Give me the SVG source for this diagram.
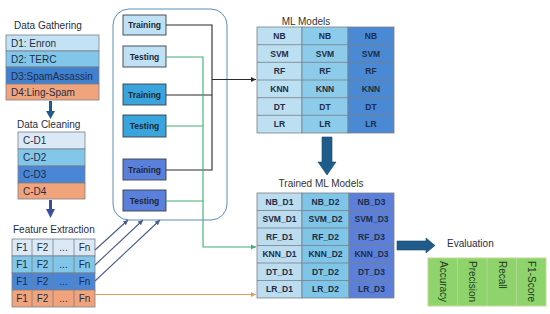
<svg xmlns="http://www.w3.org/2000/svg" width="550" height="314" viewBox="0 0 550 314">
<defs>
<style>
text{font-family:"Liberation Sans",Arial,sans-serif;fill:#1f2d45}
.t{font-size:10px}
.ttl{font-size:10px;fill:#333}
.b{font-size:8.5px;font-weight:bold;text-anchor:middle;dominant-baseline:central;fill:#1c2838}
.c{font-size:10px;text-anchor:middle;dominant-baseline:central}
.cell{stroke:#7a7f88;stroke-width:0.8}
.box{stroke:#3a3f4a;stroke-width:0.9}
.r1{fill:#c3e2f3}.r2{fill:#82c6e9}.r3{fill:#3f80cf}.r4{fill:#f1a47c}
.cr1{fill:#dbe9f6}
.ln{fill:none;stroke-width:1.1}
.blk{stroke:#2a2a2a}.grn{stroke:#3fae70}.org{stroke:#d9a060}.blu{stroke:#4a5a8c}
.ev{font-size:10px;dominant-baseline:central;text-anchor:start;fill:#1c3a1c}
</style>
<marker id="ab" markerWidth="6" markerHeight="6" refX="5" refY="3" orient="auto" markerUnits="userSpaceOnUse"><path d="M0,0.5 L5,3 L0,5.5 Z" fill="#2a2a2a"/></marker>
<marker id="ag" markerWidth="6" markerHeight="6" refX="5" refY="3" orient="auto" markerUnits="userSpaceOnUse"><path d="M0,0.5 L5,3 L0,5.5 Z" fill="#3fae70"/></marker>
<marker id="ao" markerWidth="6" markerHeight="6" refX="5" refY="3" orient="auto" markerUnits="userSpaceOnUse"><path d="M0,0.5 L5,3 L0,5.5 Z" fill="#d9a060"/></marker>
<marker id="au" markerWidth="6" markerHeight="6" refX="5" refY="3" orient="auto" markerUnits="userSpaceOnUse"><path d="M0,0.5 L5,3 L0,5.5 Z" fill="#4a5a8c"/></marker>
</defs>
<rect width="550" height="314" fill="#ffffff"/>

<g id="data-gathering">
<text class="t" x="14" y="29">Data Gathering</text>
<rect class="cell r1" x="6" y="35" width="93" height="16"/>
<rect class="cell r2" x="6" y="51" width="93" height="16"/>
<rect class="cell r3" x="6" y="67" width="93" height="17"/>
<rect class="cell r4" x="6" y="84" width="93" height="16"/>
<text class="t" x="11" y="47">D1: Enron</text>
<text class="t" x="11" y="63">D2: TERC</text>
<text class="t" x="11" y="79.5">D3:SpamAssassin</text>
<text class="t" x="11" y="96">D4:Ling-Spam</text>
</g>

<g id="data-cleaning">
<text class="t" x="17" y="128">Data Cleaning</text>
<rect class="cell cr1" x="18" y="132" width="67" height="17"/>
<rect class="cell r2" x="18" y="149" width="67" height="17"/>
<rect class="cell" x="18" y="166" width="67" height="17" fill="#4a86d6"/>
<rect class="cell r4" x="18" y="183" width="67" height="16"/>
<text class="t" x="23" y="144">C-D1</text>
<text class="t" x="23" y="161">C-D2</text>
<text class="t" x="23" y="178">C-D3</text>
<text class="t" x="23" y="195">C-D4</text>
</g>

<g id="feature-extraction">
<text class="t" x="13" y="233">Feature Extraction</text>
<g class="cell">
<rect class="cr1" x="12" y="239" width="83" height="17"/>
<rect class="r2" x="12" y="256" width="83" height="17"/>
<rect x="12" y="273" width="83" height="17" fill="#4a86d6"/>
<rect class="r4" x="12" y="290" width="83" height="17"/>
<path d="M32,239V307M53,239V307M74,239V307" fill="none"/>
</g>
<g class="c">
<text x="22" y="247.5">F1</text><text x="42.5" y="247.5">F2</text><text x="63.5" y="247.5">...</text><text x="84.5" y="247.5">Fn</text>
<text x="22" y="264.5">F1</text><text x="42.5" y="264.5">F2</text><text x="63.5" y="264.5">...</text><text x="84.5" y="264.5">Fn</text>
<text x="22" y="281.5">F1</text><text x="42.5" y="281.5">F2</text><text x="63.5" y="281.5">...</text><text x="84.5" y="281.5">Fn</text>
<text x="22" y="298.5">F1</text><text x="42.5" y="298.5">F2</text><text x="63.5" y="298.5">...</text><text x="84.5" y="298.5">Fn</text>
</g>
</g>

<g id="split-container">
<rect x="113" y="9" width="114" height="211" rx="16" fill="none" stroke="#5a8fb5" stroke-width="1"/>
</g>
<g id="train1"><rect class="box" x="123" y="15" width="43" height="20" fill="#bfe1f3"/><text class="b" x="144.5" y="25">Training</text></g>
<g id="test1"><rect class="box" x="123" y="46" width="43" height="21" fill="#bfe1f3"/><text class="b" x="144.5" y="56.5">Testing</text></g>
<g id="train2"><rect class="box" x="123" y="84" width="43" height="21" fill="#3aa5dc"/><text class="b" x="144.5" y="94.5">Training</text></g>
<g id="test2"><rect class="box" x="123" y="115" width="43" height="22" fill="#3aa5dc"/><text class="b" x="144.5" y="126">Testing</text></g>
<g id="train3"><rect class="box" x="123" y="159" width="43" height="21" fill="#5b80db"/><text class="b" x="144.5" y="169.5">Training</text></g>
<g id="test3"><rect class="box" x="123" y="190" width="43" height="21" fill="#5b80db"/><text class="b" x="144.5" y="200.5">Testing</text></g>

<g id="ml-models">
<text class="ttl" x="306" y="25" text-anchor="middle">ML Models</text>
<rect class="cell" x="257" y="27" width="45" height="106" fill="#bddff2"/>
<rect class="cell" x="302" y="27" width="46" height="106" fill="#8ccbea"/>
<rect class="cell" x="348" y="27" width="46" height="106" fill="#4a8ad4"/>
<path class="cell" d="M257,44.7H394M257,62.3H394M257,80H394M257,97.7H394M257,115.3H394" fill="none"/>
<g class="b">
<text x="279.5" y="35.8">NB</text><text x="325" y="35.8">NB</text><text x="371" y="35.8">NB</text>
<text x="279.5" y="53.5">SVM</text><text x="325" y="53.5">SVM</text><text x="371" y="53.5">SVM</text>
<text x="279.5" y="71.2">RF</text><text x="325" y="71.2">RF</text><text x="371" y="71.2">RF</text>
<text x="279.5" y="88.8">KNN</text><text x="325" y="88.8">KNN</text><text x="371" y="88.8">KNN</text>
<text x="279.5" y="106.5">DT</text><text x="325" y="106.5">DT</text><text x="371" y="106.5">DT</text>
<text x="279.5" y="124.2">LR</text><text x="325" y="124.2">LR</text><text x="371" y="124.2">LR</text>
</g>
</g>

<g id="trained-models">
<text class="ttl" x="321" y="187" text-anchor="middle">Trained ML Models</text>
<rect class="cell" x="257" y="193" width="45" height="105" fill="#bcdcf0"/>
<rect class="cell" x="302" y="193" width="47" height="105" fill="#7ec5e8"/>
<rect class="cell" x="349" y="193" width="45" height="105" fill="#5c80da"/>
<path class="cell" d="M257,210.5H394M257,228H394M257,245.5H394M257,263H394M257,280.5H394" fill="none"/>
<g class="b">
<text x="279.5" y="201.8">NB_D1</text><text x="325.5" y="201.8">NB_D2</text><text x="371.5" y="201.8">NB_D3</text>
<text x="279.5" y="219.3">SVM_D1</text><text x="325.5" y="219.3">SVM_D2</text><text x="371.5" y="219.3">SVM_D3</text>
<text x="279.5" y="236.8">RF_D1</text><text x="325.5" y="236.8">RF_D2</text><text x="371.5" y="236.8">RF_D3</text>
<text x="279.5" y="254.3">KNN_D1</text><text x="325.5" y="254.3">KNN_D2</text><text x="371.5" y="254.3">KNN_D3</text>
<text x="279.5" y="271.8">DT_D1</text><text x="325.5" y="271.8">DT_D2</text><text x="371.5" y="271.8">DT_D3</text>
<text x="279.5" y="289.3">LR_D1</text><text x="325.5" y="289.3">LR_D2</text><text x="371.5" y="289.3">LR_D3</text>
</g>
</g>

<g id="evaluation">
<text class="t" x="447" y="247" fill="#333">Evaluation</text>
<rect x="428" y="258" width="118" height="48" fill="#8fd36c" stroke="#c5d890" stroke-width="1"/>
<path d="M457.5,258V306M487,258V306M516.5,258V306" stroke="#b8dc98" stroke-width="0.8"/>
<text class="ev" transform="translate(443,261) rotate(90)">Accuracy</text>
<text class="ev" transform="translate(472,261) rotate(90)">Precision</text>
<text class="ev" transform="translate(502,261) rotate(90)">Recall</text>
<text class="ev" transform="translate(531,261) rotate(90)">F1-Score</text>
</g>

<g id="connectors">
<path d="M50.5,101V111" stroke="#1f5c8a" stroke-width="3"/>
<path d="M46,111H55L50.5,119Z" fill="#1f5c8a"/>
<path d="M50.5,200V209" stroke="#3a4f9a" stroke-width="3"/>
<path d="M46,209H55L50.5,218Z" fill="#3a4f9a"/>
<path class="ln blk" d="M166,25H212V170H166M166,95H212"/>
<path class="ln blk" d="M212,79.5H256" marker-end="url(#ab)"/>
<path class="ln grn" d="M166,57H203V201H166M166,126H203"/>
<path class="ln grn" d="M203,201V247H256" marker-end="url(#ag)"/>
<path class="ln org" d="M95,294.5H256" marker-end="url(#ao)"/>
<path class="ln blu" d="M95,250L128,220" marker-end="url(#au)"/>
<path class="ln blu" d="M95,265L143,220" marker-end="url(#au)"/>
<path class="ln blu" d="M95,281L160,220" marker-end="url(#au)"/>
<path d="M322,137H332V162H336L327,175L318,162H322Z" fill="#1f5c8a" stroke="#17466b" stroke-width="0.6"/>
<path d="M397,241H426V238L435,245.5L426,253V250H397Z" fill="#1f5c8a" stroke="#17466b" stroke-width="0.6"/>
</g>
</svg>
